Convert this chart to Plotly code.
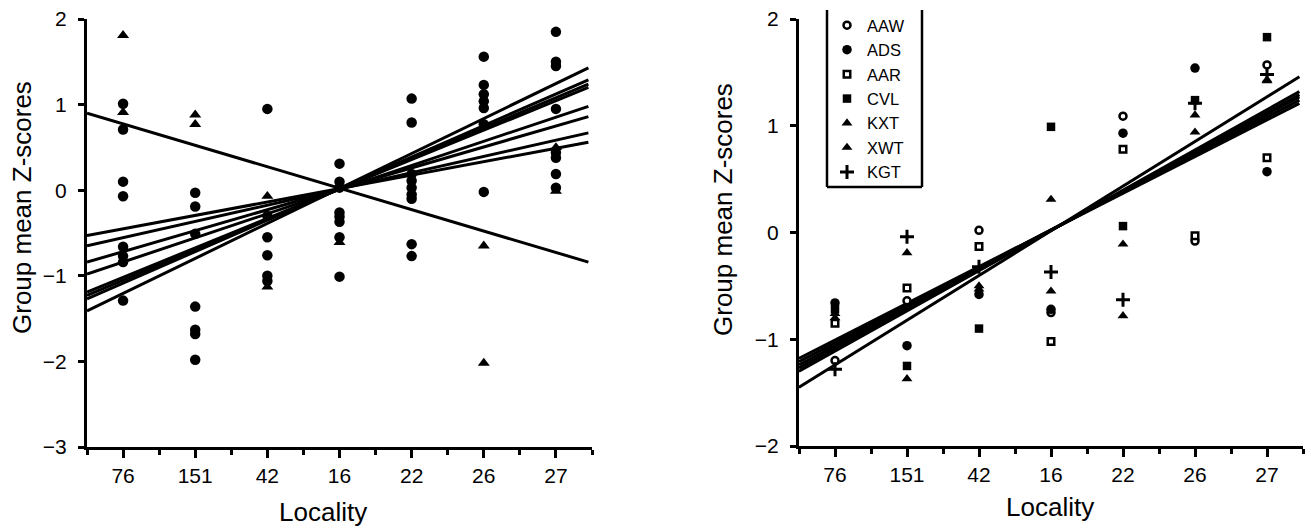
import plotly.graph_objects as go

# ---------------- data ----------------
localities = ["76", "151", "42", "16", "22", "26", "27"]

# Left panel: group means of individual variables (circles / triangles)
left_circles = [
    [1.01, 0.71, 0.10, -0.07, -0.66, -0.77, -0.84, -1.29],
    [-0.03, -0.19, -0.51, -1.36, -1.63, -1.68, -1.98],
    [0.95, -0.30, -0.55, -0.76, -1.00, -1.06],
    [0.31, 0.10, 0.03, -0.26, -0.31, -0.37, -0.55, -1.01],
    [1.07, 0.79, 0.19, 0.11, 0.03, -0.05, -0.10, -0.63, -0.77],
    [1.56, 1.23, 1.12, 1.04, 0.96, 0.77, -0.02],
    [1.85, 1.50, 1.45, 0.95, 0.44, 0.38, 0.19, 0.03],
]
left_triangles = [
    [1.81, 0.91],
    [0.88, 0.77],
    [-0.07, -1.13],
    [-0.61],
    [],
    [-0.65, -2.02],
    [0.50, -0.01],
]

# regression lines (value at first / last x of the fitted span)
line_x = [-0.5, 6.45]
left_line_start = [0.90, -0.53, -0.65, -0.84, -0.98, -1.19, -1.23, -1.27, -1.41]
left_line_end = [-0.84, 0.56, 0.67, 0.86, 0.98, 1.20, 1.24, 1.29, 1.43]

# Right panel: seven groups
series_names = ["AAW", "ADS", "AAR", "CVL", "KXT", "XWT", "KGT"]
AAW = [-1.20, -0.64, 0.02, -0.75, 1.09, -0.08, 1.57]
ADS = [-0.66, -1.06, -0.58, -0.72, 0.93, 1.54, 0.57]
AAR = [-0.85, -0.52, -0.13, -1.02, 0.78, -0.03, 0.70]
CVL = [-0.72, -1.25, -0.90, 0.99, 0.06, 1.24, 1.83]
KXT = [-0.76, -1.37, -0.50, 0.31, -0.11, 1.10, 1.43]
XWT = [-0.80, -0.19, -0.53, -0.55, -0.78, 0.94, 1.42]
KGT = [-1.28, -0.04, -0.32, -0.37, -0.63, 1.21, 1.48]
right_values = [AAW, ADS, AAR, CVL, KXT, XWT, KGT]

right_line_start = [-1.45, -1.18, -1.21, -1.24, -1.27, -1.30]
right_line_end = [1.46, 1.21, 1.24, 1.27, 1.29, 1.32]

# ---------------- styling ----------------
W, H = 1311, 528
FONT = "Liberation Sans, Arial, Helvetica, sans-serif"
BLACK = "black"


def px(x):
    return x / W


def py(y):
    return 1 - y / H


series_styles = {
    "AAW": dict(symbol="circle", size=7, color="white", line=dict(color=BLACK, width=2.5)),
    "ADS": dict(symbol="circle", size=9.5, color=BLACK, line=dict(width=0)),
    "AAR": dict(symbol="square", size=6.5, color="white", line=dict(color=BLACK, width=2.5)),
    "CVL": dict(symbol="square", size=8.5, color=BLACK, line=dict(width=0)),
    "KXT": dict(symbol="triangle-up", size=9.5, color=BLACK, line=dict(width=0)),
    "XWT": dict(symbol="triangle-up", size=9.5, color=BLACK, line=dict(width=0)),
    "KGT": dict(symbol="cross-thin", size=10, color=BLACK, line=dict(color=BLACK, width=3)),
}

fig = go.Figure()

xpos = list(range(len(localities)))

# left panel lines
for s, e in zip(left_line_start, left_line_end):
    fig.add_trace(go.Scatter(x=line_x, y=[s, e], mode="lines",
                             line=dict(color=BLACK, width=3),
                             showlegend=False, hoverinfo="skip",
                             xaxis="x", yaxis="y"))

# left panel points
cx, cy, tx, ty = [], [], [], []
for i, vals in enumerate(left_circles):
    cx += [xpos[i]] * len(vals)
    cy += vals
for i, vals in enumerate(left_triangles):
    tx += [xpos[i]] * len(vals)
    ty += vals
fig.add_trace(go.Scatter(x=cx, y=cy, mode="markers",
                         marker=dict(symbol="circle", size=10.5, color=BLACK),
                         showlegend=False, xaxis="x", yaxis="y"))
fig.add_trace(go.Scatter(x=tx, y=ty, mode="markers",
                         marker=dict(symbol="triangle-up", size=10.5, color=BLACK),
                         showlegend=False, xaxis="x", yaxis="y"))

# right panel lines
for s, e in zip(right_line_start, right_line_end):
    fig.add_trace(go.Scatter(x=line_x, y=[s, e], mode="lines",
                             line=dict(color=BLACK, width=3),
                             showlegend=False, hoverinfo="skip",
                             xaxis="x2", yaxis="y2"))

# right panel points
for name, vals in zip(series_names, right_values):
    fig.add_trace(go.Scatter(x=xpos, y=vals, mode="markers", name=name,
                             marker=series_styles[name],
                             xaxis="x2", yaxis="y2"))

minor_vals = [i - 0.5 for i in range(len(localities) + 1)]

xaxis_common = dict(
    range=[-0.5, 6.5], tickmode="array", tickvals=xpos, ticktext=localities,
    showline=True, linewidth=3, linecolor=BLACK, showgrid=False, zeroline=False,
    ticks="outside", ticklen=8, tickwidth=2.5, tickcolor=BLACK,
    tickfont=dict(family=FONT, size=21, color=BLACK),
    minor=dict(tickmode="array", tickvals=minor_vals, ticks="outside",
               ticklen=5, tickwidth=2.5, tickcolor=BLACK, showgrid=False),
    fixedrange=True,
)
yaxis_common = dict(
    showline=True, linewidth=3, linecolor=BLACK, showgrid=False, zeroline=False,
    ticks="outside", ticklen=6, tickwidth=2.5, tickcolor=BLACK, dtick=1,
    tickfont=dict(family=FONT, size=21, color=BLACK), ticklabelstandoff=7,
    fixedrange=True,
)

fig.update_layout(
    width=W, height=H,
    margin=dict(l=0, r=0, t=0, b=0, autoexpand=False),
    paper_bgcolor="white", plot_bgcolor="white",
    font=dict(family=FONT, color=BLACK),
    xaxis=dict(domain=[px(87), px(592)], anchor="y", **xaxis_common),
    yaxis=dict(domain=[py(447), py(19)], anchor="x", range=[-3, 2], **yaxis_common),
    xaxis2=dict(domain=[px(799), px(1303)], anchor="y2", **xaxis_common),
    yaxis2=dict(domain=[py(446), py(19)], anchor="x2", range=[-2, 2], **yaxis_common),
    legend=dict(x=px(827), y=py(8), xanchor="left", yanchor="top",
                bgcolor="rgba(0,0,0,0)", borderwidth=0,
                font=dict(family=FONT, size=16.5, color=BLACK)),
    showlegend=True,
)

# axis titles
title_font = dict(family=FONT, size=26, color=BLACK)
fig.add_annotation(text="Group mean Z-scores", x=px(22), y=py(208), xref="paper", yref="paper",
                   textangle=-90, showarrow=False, font=title_font, xanchor="center", yanchor="middle")
fig.add_annotation(text="Group mean Z-scores", x=px(723), y=py(210), xref="paper", yref="paper",
                   textangle=-90, showarrow=False, font=title_font, xanchor="center", yanchor="middle")
fig.add_annotation(text="Locality", x=px(323), y=py(512), xref="paper", yref="paper",
                   showarrow=False, font=title_font, xanchor="center", yanchor="middle")
fig.add_annotation(text="Locality", x=px(1050), y=py(507), xref="paper", yref="paper",
                   showarrow=False, font=title_font, xanchor="center", yanchor="middle")

# legend frame (open at the top)
frame = dict(color=BLACK, width=2.5)
fig.add_shape(type="line", xref="paper", yref="paper", x0=px(827), x1=px(827), y0=py(10), y1=py(187), line=frame)
fig.add_shape(type="line", xref="paper", yref="paper", x0=px(922), x1=px(922), y0=py(10), y1=py(187), line=frame)
fig.add_shape(type="line", xref="paper", yref="paper", x0=px(827), x1=px(922), y0=py(187), y1=py(187), line=frame)

fig.write_html(
    "out.html",
    config={"displayModeBar": False, "staticPlot": False},
    post_script="document.body.style.margin='0px';document.body.style.overflow='hidden';",
)
